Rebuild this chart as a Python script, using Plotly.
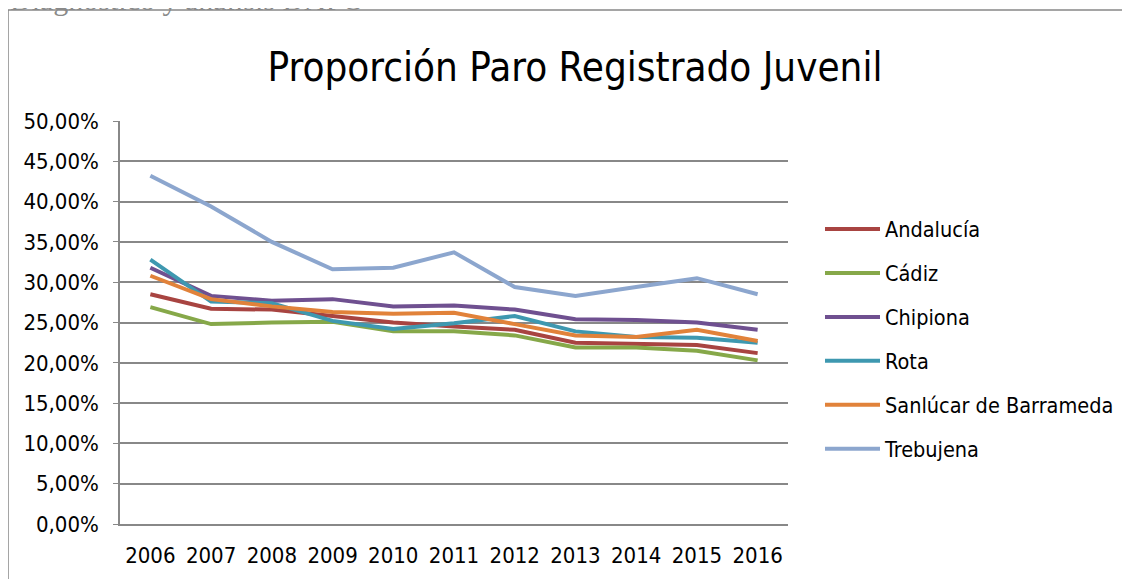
import plotly.graph_objects as go

anios = ['2006', '2007', '2008', '2009', '2010', '2011', '2012', '2013', '2014', '2015', '2016']

andalucia = [28.5, 26.7, 26.6, 25.8, 25.0, 24.5, 24.1, 22.5, 22.4, 22.2, 21.2]
cadiz = [26.9, 24.8, 25.0, 25.1, 23.9, 23.9, 23.4, 21.9, 21.9, 21.5, 20.3]
chipiona = [31.8, 28.3, 27.7, 27.9, 27.0, 27.1, 26.6, 25.4, 25.3, 25.0, 24.1]
rota = [32.8, 27.6, 27.4, 25.2, 24.2, 24.9, 25.8, 23.9, 23.2, 23.1, 22.5]
sanlucar = [30.8, 27.9, 27.0, 26.3, 26.1, 26.2, 24.8, 23.4, 23.2, 24.1, 22.7]
trebujena = [43.2, 39.4, 35.0, 31.6, 31.8, 33.7, 29.4, 28.3, 29.4, 30.5, 28.5]

series = [
    ('Andalucía', andalucia, '#A84441'),
    ('Cádiz', cadiz, '#86A849'),
    ('Chipiona', chipiona, '#6F5090'),
    ('Rota', rota, '#3E98B0'),
    ('Sanlúcar de Barrameda', sanlucar, '#E1823A'),
    ('Trebujena', trebujena, '#8CA6CE'),
]

fuente = 'DejaVu Sans Condensed, Liberation Sans Narrow, Arial Narrow, sans-serif'

fig = go.Figure()
for nombre, valores, color in series:
    fig.add_trace(go.Scatter(
        x=anios,
        y=[v / 100 for v in valores],
        name=nombre,
        mode='lines',
        legendgroup=nombre,
        line=dict(color=color, width=4),
    ))

# área de trazado: x 120..788, y 121..524
fig.add_shape(type='rect', xref='paper', yref='paper',
              x0=(8 - 120) / 668, x1=(1150 - 120) / 668,
              y0=-0.3, y1=(524 - 10) / 403,
              line=dict(color='#888888', width=1.5), layer='below')

fig.add_annotation(text='Diagnóstico y análisis DAFO', xref='paper', yref='paper',
                   x=(8 - 120) / 668, y=(524 + 1) / 403, xanchor='left', yanchor='middle',
                   showarrow=False,
                   font=dict(family='Liberation Serif, DejaVu Serif, serif', size=30, color='#8a8a8a'))

fig.update_layout(
    width=1130, height=579,
    margin=dict(l=112, r=350, t=113, b=63),
    paper_bgcolor='white', plot_bgcolor='white',
    separators=',.',
    title=dict(text='Proporción Paro Registrado Juvenil', x=(575 - 8) / 1130, xanchor='center',
               y=1 - (67 - 8) / 579, yanchor='middle',
               font=dict(family=fuente, size=40, color='black')),
    font=dict(family=fuente, size=20, color='black'),
    legend=dict(x=(820 - 120) / 668, y=(524 - 339) / 403, xanchor='left', yanchor='middle',
                itemwidth=55, tracegroupgap=13, font=dict(size=21.5)),
    showlegend=True,
)
fig.update_xaxes(range=[-0.5, 10.5], showgrid=False, showline=True, linecolor='#888888',
                 linewidth=1.5, ticks='', ticklabelstandoff=11, tickfont=dict(size=22),
                 fixedrange=True)
fig.update_yaxes(range=[0, 0.5], dtick=0.05, tickformat='.2%', showgrid=True,
                 gridcolor='#888888', gridwidth=1.5, showline=True, linecolor='#888888',
                 linewidth=1.5, ticks='outside', ticklen=5, tickcolor='#888888',
                 ticklabelstandoff=10, zeroline=False, tickfont=dict(size=22))

fig.write_html('out.html')
